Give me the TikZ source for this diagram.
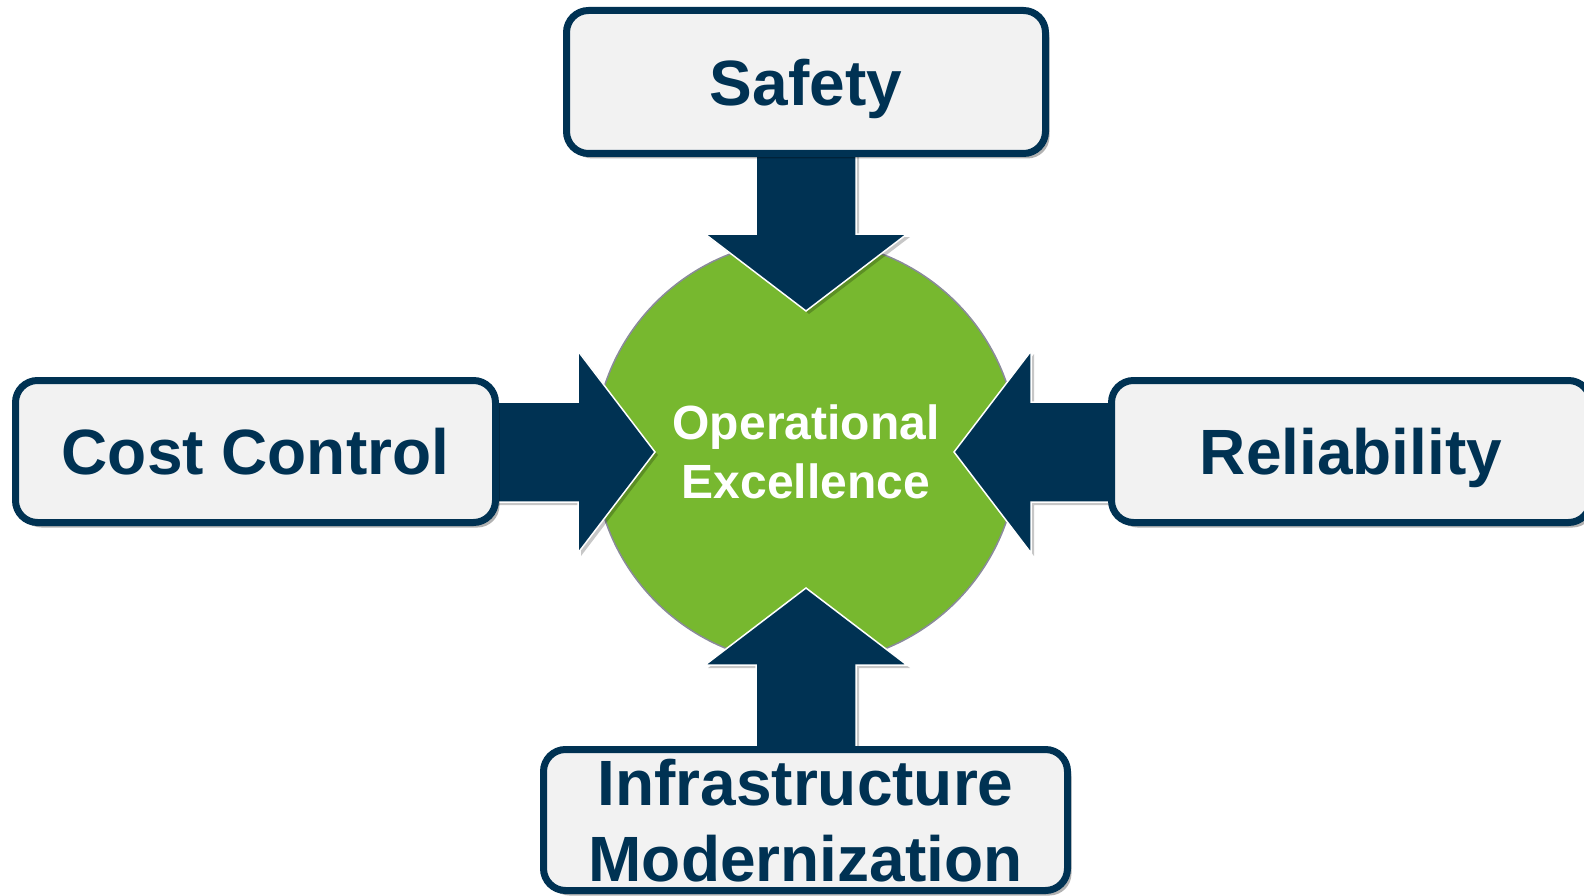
\documentclass[tikz,border=0pt]{standalone}
\usepackage{fontspec}
\setmainfont{Liberation Sans}
\usetikzlibrary{shadows,calc}
\definecolor{navy}{HTML}{003253}
\definecolor{oegreen}{HTML}{77B82F}
\definecolor{boxfill}{HTML}{F2F2F2}
\definecolor{rimgray}{HTML}{8A8A9A}
\begin{document}
\begin{tikzpicture}[x=1pt,y=-1pt,
  topicbox/.style={draw=navy, line width=7pt, fill=boxfill, rounded corners=22pt,
    drop shadow={shadow xshift=4pt, shadow yshift=-5pt, fill=black, opacity=0.3},
    text=navy, font=\fontsize{64}{76}\selectfont\bfseries, align=center, inner sep=0pt,
    text depth=0pt},
  hub/.style={circle, fill=oegreen, draw=rimgray, line width=1.5pt, minimum size=424pt,
    text=white, font=\fontsize{48}{57}\selectfont\bfseries, align=center, inner sep=0pt},
  arrowbody/.style={fill=navy, draw=white, line width=1.5pt, line join=miter},
  arrowshade/.style={fill=black, opacity=0.22},
  blockarrow/.pic={\path[arrowbody] (0,0) -- (-77,-101) -- (-77,-50) -- (-175,-50)
      -- (-175,50) -- (-77,50) -- (-77,101) -- cycle;},
  blockshade/.pic={\path[arrowshade] (0,0) -- (-77,-101) -- (-77,-50) -- (-175,-50)
      -- (-175,50) -- (-77,50) -- (-77,101) -- cycle;}]
\path[use as bounding box] (0,0) rectangle (1584,896);
\clip (0,0) rectangle (1584,896);
% hub
\node[hub] (oe) at (806,452) {Operational\\[2pt]Excellence};
% arrows pointing into the hub
\coordinate (tipS) at ($(oe.center)+(0,-141)$);
\coordinate (tipC) at ($(oe.center)+(-151,0)$);
\coordinate (tipR) at ($(oe.center)+(148,0)$);
\coordinate (tipI) at ($(oe.center)+(0,136)$);
\pic[rotate=-90] at ($(tipS)+(3,3)$) {blockshade};
\pic at ($(tipC)+(3,3)$) {blockshade};
\pic[rotate=180] at ($(tipR)+(3,3)$) {blockshade};
\pic[rotate=90] at ($(tipI)+(3,3)$) {blockshade};
\pic[rotate=-90] at (tipS) {blockarrow};
\pic at (tipC) {blockarrow};
\pic[rotate=180] at (tipR) {blockarrow};
\pic[rotate=90] at (tipI) {blockarrow};
% topic boxes
\node[topicbox, minimum width=479pt, minimum height=143pt] (safety) at (806,82) {Safety};
\node[topicbox, minimum width=480pt, minimum height=142pt] (cost) at (255.5,451.5) {Cost Control};
\node[topicbox, minimum width=479pt, minimum height=142pt] (rel) at (1351,451.5) {Reliability};
\node[topicbox, minimum width=524pt, minimum height=141pt] (infra) at (805.5,820) {Infrastructure\\Modernization};
\end{tikzpicture}
\end{document}
